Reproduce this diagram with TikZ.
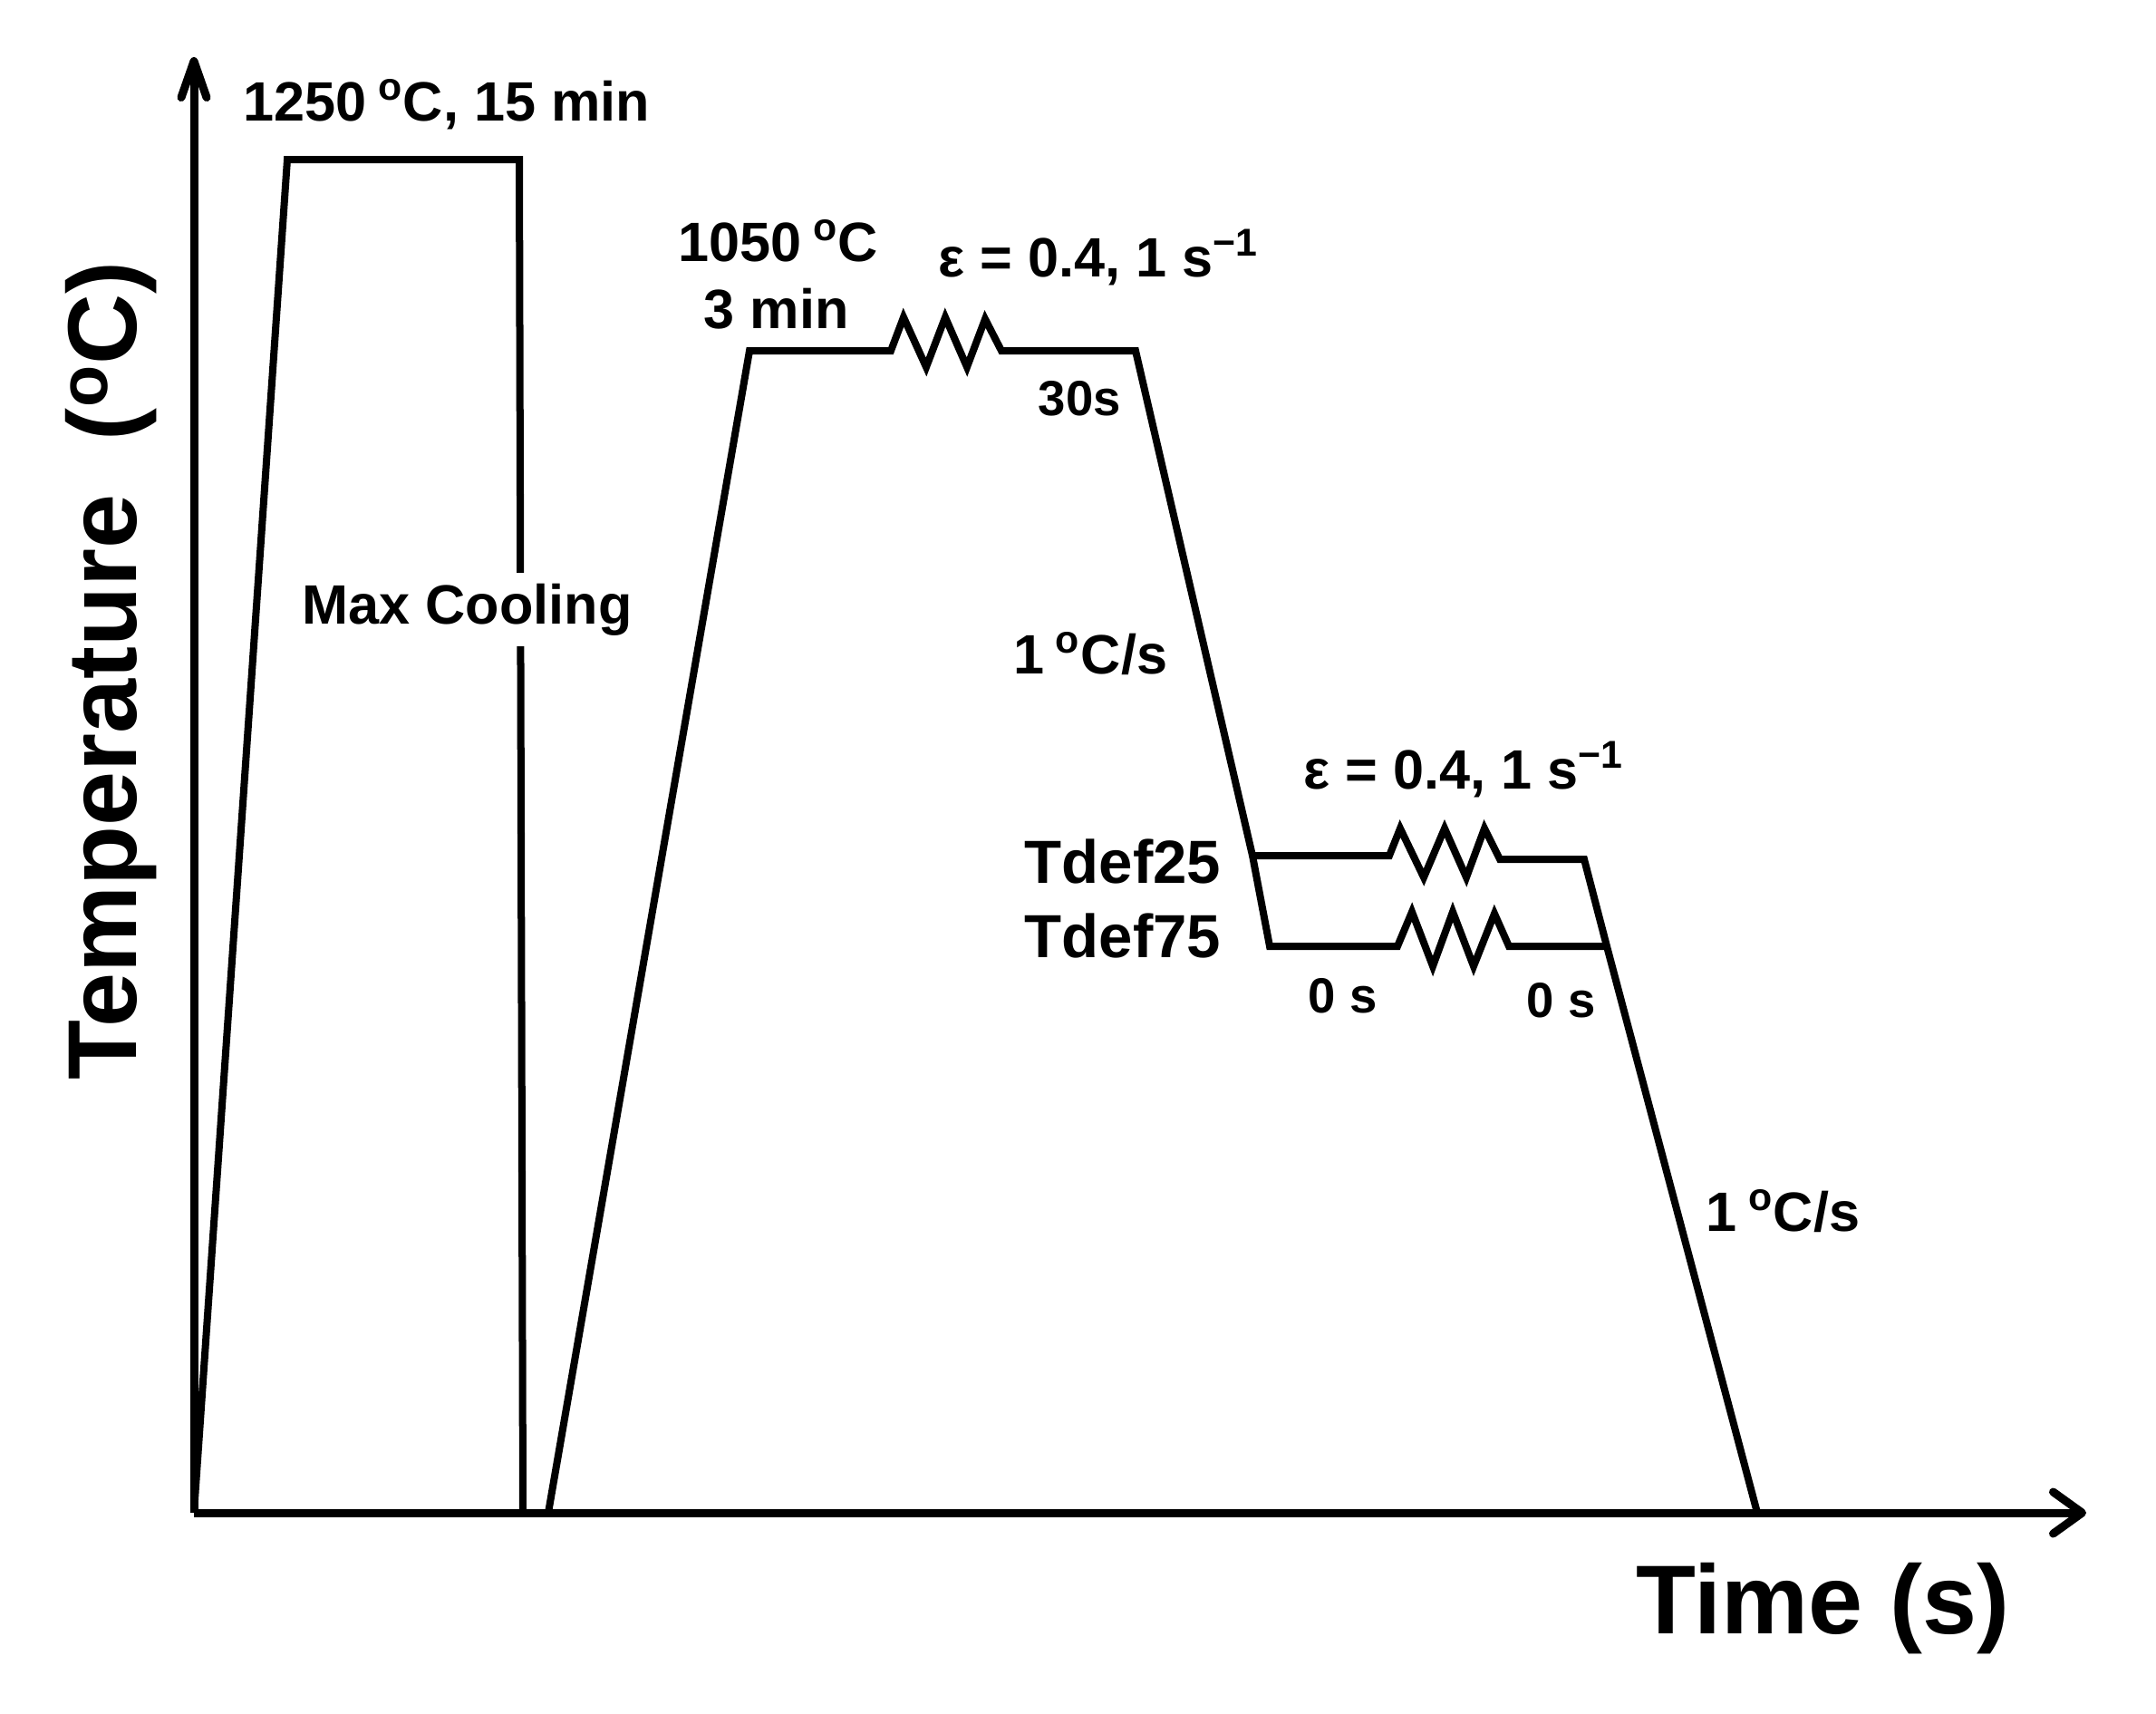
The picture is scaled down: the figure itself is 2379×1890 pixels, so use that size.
\documentclass[tikz,border=0pt]{standalone}
\usepackage{fontspec}
\setmainfont{Liberation Sans}
\usetikzlibrary{arrows.meta}
\newcommand{\dgr}{\kern0.2em\textsuperscript{o}}
\newcommand{\pers}{\textsuperscript{−1}}
\begin{document}
\begin{tikzpicture}[x=0.01cm,y=-0.01cm,
  curve/.style={line width=0.08cm, line join=miter},
  axisline/.style={line width=0.09cm},
  lab/.style={inner sep=0pt, anchor=base west, font=\fontsize{17.4}{20}\selectfont\bfseries},
  tdef/.style={inner sep=0pt, anchor=base west, font=\fontsize{19.1}{22}\selectfont\bfseries},
  small/.style={inner sep=0pt, anchor=base west, font=\fontsize{15.5}{18}\selectfont\bfseries},
  big/.style={inner sep=0pt, font=\fontsize{30.7}{34}\selectfont\bfseries}]
\useasboundingbox (0,0) rectangle (2379,1890);
% axes
\coordinate (O) at (214,1669);
\coordinate (Ytip) at (214,63);
\coordinate (Xtip) at (2302,1669);
\draw[axisline, -{Straight Barb[length=0.4cm,width=0.28cm,round]}] (O) -- (Ytip);
\draw[axisline, -{Straight Barb[length=0.32cm,width=0.46cm,round]}] (O) -- (Xtip);
% cycle 1
\draw[curve] (214,1669) -- (317,176) -- (573,176) -- (577,1669);
% cycle 2
\draw[curve] (605,1669) -- (827,387) -- (983,387)
  -- (997,350) -- (1022,405) -- (1043,350) -- (1067,405) -- (1087,352) -- (1105,387)
  -- (1253,387) -- (1382,944) -- (1401,1044) -- (1542,1044)
  -- (1558,1006) -- (1581,1066) -- (1603,1006) -- (1626,1066) -- (1649,1008) -- (1665,1044)
  -- (1773,1044);
\draw[curve] (1382,944) -- (1533,944)
  -- (1545,914) -- (1571,968) -- (1594,914) -- (1618,968) -- (1638,914) -- (1655,948)
  -- (1748,948) -- (1773,1044) -- (1939,1669);
% labels
\node[lab] (t1250) at (268,133) {1250\dgr C, 15 min};
\node[lab, fill=white, inner ysep=0.12cm] (tmax) at (333,688) {Max Cooling};
\node[lab] (t1050) at (748,288) {1050\dgr C};
\node[lab] (t3min) at (776,362) {3 min};
\node[lab] (teps1) at (1035,305) {ε = 0.4, 1 s\pers};
\node[small] (t30s) at (1145,458) {30s};
\node[lab] (trate1) at (1118,743) {1\dgr C/s};
\node[lab] (teps2) at (1438,870) {ε = 0.4, 1 s\pers};
\node[tdef] (td25) at (1130,974) {Tdef25};
\node[tdef] (td75) at (1130,1056) {Tdef75};
\node[small] (t0s1) at (1443,1117) {0 s};
\node[small] (t0s2) at (1684,1122) {0 s};
\node[lab] (trate2) at (1882,1358) {1\dgr C/s};
\node[big, anchor=base west] (ttime) at (1805,1802) {Time (s)};
\node[big, anchor=base, rotate=90] (ttemp) at (150,740) {Temperature\ \ (\textsuperscript{o}C)};
\end{tikzpicture}
\end{document}
